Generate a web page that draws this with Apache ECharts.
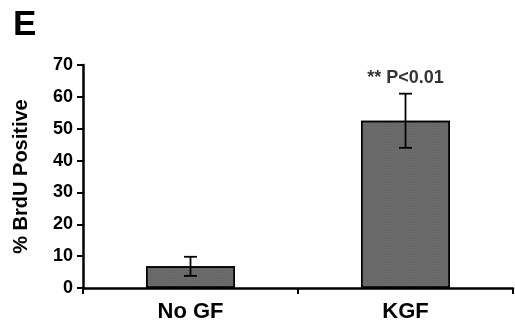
<!DOCTYPE html>
<html><head><meta charset="utf-8">
<script src="https://cdn.jsdelivr.net/npm/echarts@6/dist/echarts.min.js"></script>
<style>html,body{margin:0;padding:0;background:#fff}#c{width:515px;height:328px}</style>
</head><body><div id="c"></div>
<script>
const categories = ['No GF', 'KGF'];
const means = [6.8, 52.5];
const errors = [3.0, 8.5];
const yTicks = [0, 10, 20, 30, 40, 50, 60, 70];

const chart = echarts.init(document.getElementById('c'));
const F = 'Liberation Sans, Arial, sans-serif';
chart.setOption({
  animation: false,
  backgroundColor: '#fff',
  title: { text: 'E', left: 8, top: 3, textStyle: { fontFamily: F, fontSize: 35, fontWeight: 'bold', color: '#000' } },
  grid: { left: 83, right: 2, top: 65, bottom: 40 },
  xAxis: {
    type: 'category', data: categories,
    axisLine: { lineStyle: { color: '#000', width: 2.5 } },
    axisTick: { show: true, alignWithLabel: false, length: 6, lineStyle: { color: '#000', width: 2 } },
    axisLabel: { fontFamily: F, fontSize: 22, fontWeight: 'bold', color: '#000', margin: 13 }
  },
  yAxis: {
    type: 'value', min: 0, max: 70, interval: 10,
    name: '% BrdU Positive', nameLocation: 'middle', nameGap: 52,
    nameTextStyle: { fontFamily: F, fontSize: 20, fontWeight: 'bold', color: '#000' },
    axisLine: { show: true, lineStyle: { color: '#000', width: 2.5 } },
    axisTick: { show: true, length: 6, lineStyle: { color: '#000', width: 2 } },
    splitLine: { show: false },
    axisLabel: { fontFamily: F, fontSize: 18, fontWeight: 'bold', color: '#000', margin: 10,
      formatter: v => yTicks.includes(v) ? String(v) : '' }
  },
  series: [
    {
      type: 'bar', data: means, barWidth: 89,
      itemStyle: { color: '#6c6c6c', borderColor: '#000', borderWidth: 1.5,
        decal: { symbol: 'rect', symbolSize: 0.5, dashArrayX: [2, 1], dashArrayY: [1, 1], color: 'rgba(30,30,30,0.35)', rotation: 0 } },
      label: { show: false }
    },
    {
      type: 'custom',
      data: means.map((m, i) => [i, m - errors[i], m + errors[i]]),
      renderItem: (params, api) => {
        const x = api.value(0);
        const lo = api.coord([x, api.value(1)]);
        const hi = api.coord([x, api.value(2)]);
        const w = 13;
        const st = { stroke: '#000', lineWidth: 1.8 };
        return { type: 'group', children: [
          { type: 'line', shape: { x1: lo[0], y1: lo[1], x2: hi[0], y2: hi[1] }, style: st },
          { type: 'line', shape: { x1: hi[0] - w / 2, y1: hi[1], x2: hi[0] + w / 2, y2: hi[1] }, style: st },
          { type: 'line', shape: { x1: lo[0] - w / 2, y1: lo[1], x2: lo[0] + w / 2, y2: lo[1] }, style: st }
        ] };
      },
      z: 10
    },
    {
      type: 'scatter', data: [[1, 61.5]], symbolSize: 0,
      label: { show: true, position: 'top', distance: 5, formatter: '** P<0.01',
        fontFamily: F, fontSize: 18, fontWeight: 'bold', color: '#000' }
    }
  ]
});
</script></body></html>
